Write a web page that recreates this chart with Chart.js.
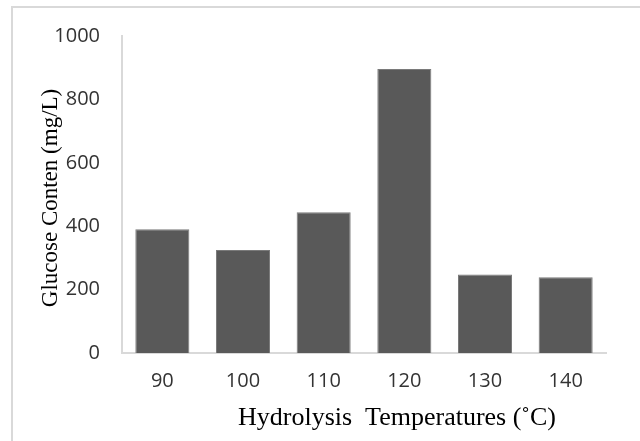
<!DOCTYPE html>
<html>
<head>
<meta charset="utf-8">
<script src="https://cdn.jsdelivr.net/npm/chart.js@4"></script>
<style>
  html, body { margin: 0; padding: 0; background: #fff; }
  #wrap { position: relative; width: 640px; height: 441px; overflow: hidden; }
  #frame { position: absolute; left: 11px; top: 6px; width: 700px; height: 500px;
           border-left: 2px solid #d9d9d9; border-top: 2px solid #d9d9d9; }
  canvas { position: absolute; left: 0; top: 0; }
</style>
</head>
<body>
<div id="wrap">
  <div id="frame"></div>
  <canvas id="grafico" width="640" height="441"></canvas>
</div>
<script>
var temperaturas = ["90", "100", "110", "120", "130", "140"];
var glicose = [390, 325, 444, 896, 248, 239];
var tituloX = "Hydrolysis  Temperatures (\u02DAC)";
var tituloY = "Glucose Conten (mg/L)";

// desenha os titulos dos eixos na posicao do original
var titulos = {
    id: "titulos",
    afterDraw: function (chart) {
        var ctx = chart.ctx;
        ctx.save();
        ctx.fillStyle = "#000";
        ctx.textAlign = "center";
        ctx.textBaseline = "alphabetic";
        ctx.font = "26px 'Liberation Serif'";
        ctx.fillText(tituloX, 397, 425);
        ctx.font = "23px 'Liberation Serif'";
        ctx.translate(57, 198);
        ctx.rotate(-Math.PI / 2);
        ctx.fillText(tituloY, 0, 0);
        ctx.restore();
    }
};

new Chart(document.getElementById("grafico"), {
    type: "bar",
    data: {
        labels: temperaturas,
        datasets: [{
            data: glicose,
            backgroundColor: "#595959",
            borderColor: "#7a7a7a",
            borderWidth: 1,
            barPercentage: 0.67,
            categoryPercentage: 1
        }]
    },
    options: {
        responsive: false,
        animation: false,
        layout: { padding: { top: 36, right: 34, left: 0, bottom: 0 } },
        plugins: { legend: { display: false }, tooltip: { enabled: false } },
        scales: {
            x: {
                grid: { display: false, drawTicks: false },
                border: { color: "#d9d9d9", width: 2 },
                ticks: { color: "#333", padding: 16, font: { family: "'Open Sans'", size: 20 } },
                afterFit: function (s) { s.height = 88; }
            },
            y: {
                min: 0,
                max: 1000,
                grid: { display: false, drawTicks: false },
                border: { color: "#d9d9d9", width: 2 },
                ticks: {
                    stepSize: 200, color: "#333", padding: 22,
                    font: { family: "'Open Sans'", size: 20 },
                    callback: function (v) { return String(v); }
                },
                afterFit: function (s) { s.width = 122; }
            }
        }
    },
    plugins: [titulos]
});
</script>
</body>
</html>
